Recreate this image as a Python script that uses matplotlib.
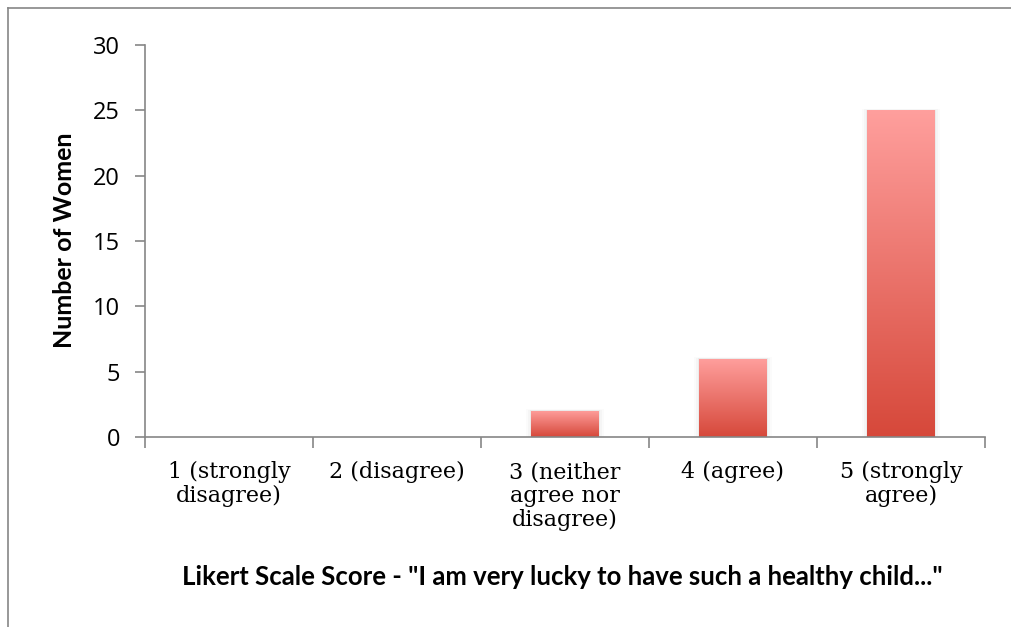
import matplotlib
matplotlib.use('Agg')
import matplotlib.pyplot as plt
import numpy as np
from matplotlib.colors import LinearSegmentedColormap
from matplotlib.patches import Rectangle
from matplotlib.lines import Line2D

# Data
categories = ['1 (strongly\ndisagree)', '2 (disagree)', '3 (neither\nagree nor\ndisagree)',
              '4 (agree)', '5 (strongly\nagree)']
counts = [0, 0, 2, 6, 25]
y_ticks = [0, 5, 10, 15, 20, 25, 30]

AXIS_GRAY = '#868686'
TOP_COLOR = '#ff9f9d'
BOTTOM_COLOR = '#d6483a'

fig = plt.figure(figsize=(10.12, 6.27), dpi=100)
ax = fig.add_axes([0.1433, 0.3030, 0.8300, 0.6252])

# outer chart border (only top and left edges fall inside the picture)
bx, by = 8 / 1012, 1 - 8 / 627
fig.lines.append(Line2D([bx, 1.0], [by, by], transform=fig.transFigure,
                        color=AXIS_GRAY, linewidth=1.2))
fig.lines.append(Line2D([bx, bx], [0.0, by], transform=fig.transFigure,
                        color=AXIS_GRAY, linewidth=1.2))

x = np.arange(len(categories))
bars = ax.bar(x, counts, width=0.4, color='none', edgecolor='none', zorder=2)

# vertical gradient fill for every bar
cmap = LinearSegmentedColormap.from_list('pinkred', [BOTTOM_COLOR, TOP_COLOR])
grad = np.linspace(0, 1, 256).reshape(-1, 1)
for bar in bars:
    h = bar.get_height()
    if h <= 0:
        continue
    x0 = bar.get_x()
    w = bar.get_width()
    # soft shadow
    for k, a in enumerate([0.04, 0.025, 0.015]):
        pad = 0.01 * (k + 1)
        ax.add_patch(Rectangle((x0 - pad, 0), w + 2 * pad, h + pad * 4,
                               facecolor='black', edgecolor='none', alpha=a, zorder=1))
    im = ax.imshow(grad, extent=[x0, x0 + w, 0, h], origin='lower', cmap=cmap,
                   aspect='auto', zorder=2)
    im.set_clip_path(bar)

ax.set_xlim(-0.5, len(categories) - 0.5)
ax.set_ylim(0, 30)

for side in ['top', 'right']:
    ax.spines[side].set_visible(False)
for side in ['left', 'bottom']:
    ax.spines[side].set_color(AXIS_GRAY)
    ax.spines[side].set_linewidth(1.2)

ax.set_yticks(y_ticks)
ax.set_yticklabels([str(v) for v in y_ticks], fontfamily='Open Sans', fontsize=17)
ax.tick_params(axis='y', direction='out', length=7, width=1.2, color=AXIS_GRAY, pad=11)

# category ticks sit on the boundaries, labels in the middle
ax.set_xticks(np.arange(len(categories) + 1) - 0.5)
ax.set_xticklabels([])
ax.tick_params(axis='x', direction='out', length=8, width=1.2, color=AXIS_GRAY)
for i, lab in enumerate(categories):
    ax.text(i, -1.85, lab, ha='center', va='top', fontfamily='DejaVu Serif',
            fontsize=16, linespacing=1.1, color='black')

fig.text(0.064, 0.617, 'Number of Women', rotation=90, ha='center', va='center',
         fontfamily='Lato', fontweight='bold', fontsize=18)
fig.text(0.556, 0.080, 'Likert Scale Score - "I am very lucky to have such a healthy child..."',
         ha='center', va='center', fontfamily='Lato', fontweight='bold', fontsize=18.5)

fig.savefig('out.png', dpi=100)
